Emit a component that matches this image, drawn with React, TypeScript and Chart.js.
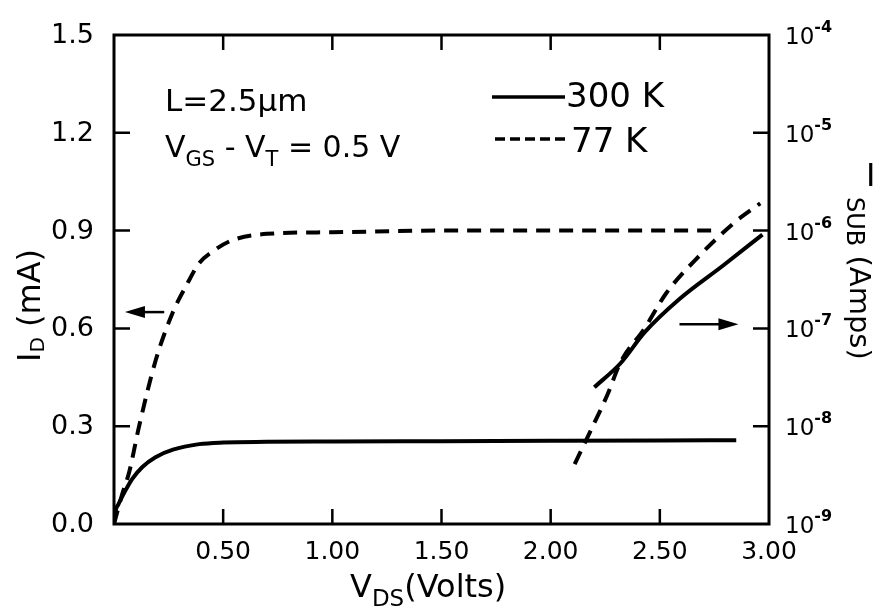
import React, { useEffect, useRef } from 'react';
import { Chart, registerables } from 'chart.js';
Chart.register(...registerables);

// I_D vs V_DS (left axis, mA)
const vds300 = [0, 0.007, 0.02, 0.05, 0.083, 0.13, 0.19, 0.27, 0.39, 0.5, 0.7, 1.0, 1.5, 2.0, 2.5, 2.85];
const id300 = [0, 0.04, 0.06, 0.1, 0.138, 0.175, 0.205, 0.228, 0.245, 0.25, 0.252, 0.253, 0.254, 0.255, 0.256, 0.257];
const vds77 = [0, 0.037, 0.07, 0.115, 0.19, 0.27, 0.33, 0.39, 0.46, 0.54, 0.7, 1.0, 1.5, 2.0, 2.5, 2.76];
const id77 = [0, 0.09, 0.16, 0.3, 0.5, 0.65, 0.73, 0.8, 0.84, 0.87, 0.89, 0.895, 0.9, 0.9, 0.9, 0.9];
// I_SUB vs V_DS (right axis, Amps)
const vsub300 = [2.2, 2.32, 2.43, 2.59, 2.79, 2.97];
const isub300 = [2.5e-8, 4.4e-8, 9.1e-8, 2.0e-7, 4.4e-7, 9.1e-7];
const vsub77 = [2.11, 2.18, 2.26, 2.32, 2.43, 2.53, 2.68, 2.84, 2.96];
const isub77 = [4.1e-9, 8.7e-9, 2.1e-8, 4.5e-8, 1.0e-7, 2.3e-7, 5.5e-7, 1.2e-6, 1.9e-6];

const xTicks = [0.5, 1.0, 1.5, 2.0, 2.5, 3.0];
const xTickLabels = ['0.50', '1.00', '1.50', '2.00', '2.50', '3.00'];
const yTicks = [0, 0.3, 0.6, 0.9, 1.2, 1.5];
const yTickLabels = ['0.0', '0.3', '0.6', '0.9', '1.2', '1.5'];
const y2Exps = [-9, -8, -7, -6, -5, -4];

const FONT = '"DejaVu Sans", "Liberation Sans", sans-serif';

type Part = { t: string; size: number; dy?: number; bold?: boolean };

function drawRich(ctx: CanvasRenderingContext2D, x: number, y: number, parts: Part[]) {
  let cx = x;
  for (const p of parts) {
    ctx.font = `${p.bold ? 'bold ' : ''}${p.size}px ${FONT}`;
    ctx.fillText(p.t, cx, y + (p.dy || 0));
    cx += ctx.measureText(p.t).width;
  }
}

function arrow(ctx: CanvasRenderingContext2D, x1: number, y1: number, x2: number, y2: number) {
  const dir = Math.sign(x2 - x1);
  ctx.beginPath();
  ctx.moveTo(x1, y1);
  ctx.lineTo(x2 - dir * 10, y2);
  ctx.stroke();
  ctx.beginPath();
  ctx.moveTo(x2, y2);
  ctx.lineTo(x2 - dir * 20, y2 - 6);
  ctx.lineTo(x2 - dir * 20, y2 + 6);
  ctx.closePath();
  ctx.fill();
}

const annot = {
  id: 'annot',
  afterDraw(chart: any) {
    const { ctx, chartArea: a, scales } = chart;
    const sx = scales.x, sy = scales.y, sy2 = scales.y2;
    ctx.save();
    ctx.strokeStyle = '#000';
    ctx.fillStyle = '#000';
    ctx.lineWidth = 3;
    ctx.strokeRect(a.left, a.top, a.right - a.left, a.bottom - a.top);

    ctx.lineWidth = 2.5;
    ctx.beginPath();
    xTicks.forEach((v) => {
      if (v >= 3) return;
      const px = sx.getPixelForValue(v);
      ctx.moveTo(px, a.bottom);
      ctx.lineTo(px, a.bottom - 15);
      ctx.moveTo(px, a.top);
      ctx.lineTo(px, a.top + 15);
    });
    yTicks.forEach((v) => {
      if (v <= 0 || v >= 1.5) return;
      const py = sy.getPixelForValue(v);
      ctx.moveTo(a.left, py);
      ctx.lineTo(a.left + 16, py);
    });
    y2Exps.forEach((e) => {
      if (e <= -9 || e >= -4) return;
      const py = sy2.getPixelForValue(Math.pow(10, e));
      ctx.moveTo(a.right, py);
      ctx.lineTo(a.right - 16, py);
    });
    ctx.stroke();

    // tick labels
    ctx.textBaseline = 'middle';
    ctx.textAlign = 'right';
    ctx.font = `27px ${FONT}`;
    yTicks.forEach((v, i) => {
      ctx.fillText(yTickLabels[i], 94, sy.getPixelForValue(v) + 1);
    });
    ctx.textAlign = 'center';
    ctx.font = `25px ${FONT}`;
    xTicks.forEach((v, i) => {
      ctx.fillText(xTickLabels[i], sx.getPixelForValue(v), a.bottom + 28);
    });
    ctx.textAlign = 'left';
    ctx.textBaseline = 'alphabetic';
    y2Exps.forEach((e) => {
      const py = sy2.getPixelForValue(Math.pow(10, e));
      drawRich(ctx, 785, py + 9, [
        { t: '10', size: 23 },
        { t: '-' + Math.abs(e), size: 16, dy: -12, bold: true },
      ]);
    });

    // annotations
    drawRich(ctx, 165, 111, [{ t: 'L=2.5μm', size: 31 }]);
    drawRich(ctx, 165, 157, [
      { t: 'V', size: 30 },
      { t: 'GS', size: 21, dy: 9 },
      { t: ' - V', size: 30 },
      { t: 'T', size: 21, dy: 9 },
      { t: ' = 0.5 V', size: 30 },
    ]);

    // legend
    ctx.lineWidth = 3.5;
    ctx.beginPath();
    ctx.moveTo(492, 97);
    ctx.lineTo(565, 97);
    ctx.stroke();
    ctx.setLineDash([10, 5]);
    ctx.beginPath();
    ctx.moveTo(495, 139);
    ctx.lineTo(568, 139);
    ctx.stroke();
    ctx.setLineDash([]);
    drawRich(ctx, 566, 107, [{ t: '300 K', size: 34 }]);
    drawRich(ctx, 571, 152, [{ t: '77 K', size: 34 }]);

    // arrows
    ctx.lineWidth = 2.5;
    const ay = sy.getPixelForValue(0.65);
    arrow(ctx, sx.getPixelForValue(0.23), ay, sx.getPixelForValue(0.05), ay);
    const ay2 = sy2.getPixelForValue(1.1e-7);
    arrow(ctx, sx.getPixelForValue(2.59), ay2, sx.getPixelForValue(2.86), ay2);

    // x-axis title
    drawRich(ctx, 350, 597, [
      { t: 'V', size: 32 },
      { t: 'DS', size: 23, dy: 9 },
      { t: '(Volts)', size: 32 },
    ]);

    // left title (rotated)
    ctx.save();
    ctx.translate(40, 362);
    ctx.rotate(-Math.PI / 2);
    drawRich(ctx, 0, 0, [
      { t: 'I', size: 32 },
      { t: 'D', size: 20, dy: 4 },
      { t: ' (mA)', size: 32 },
    ]);
    ctx.restore();

    // right title
    ctx.font = `32px ${FONT}`;
    ctx.fillText('I', 866, 186);
    ctx.save();
    ctx.translate(850, 197);
    ctx.rotate(Math.PI / 2);
    drawRich(ctx, 0, 0, [
      { t: 'SUB', size: 24, dy: 3 },
      { t: ' (Amps)', size: 29 },
    ]);
    ctx.restore();

    ctx.restore();
  },
};

function pts(xs: number[], ys: number[]) {
  return xs.map((x, i) => ({ x, y: ys[i] }));
}

export default function App() {
  const ref = useRef<HTMLCanvasElement | null>(null);
  useEffect(() => {
    if (!ref.current) return;
    const common = {
      borderColor: '#000',
      borderWidth: 4,
      pointRadius: 0,
      fill: false,
      cubicInterpolationMode: 'monotone' as const,
      borderCapStyle: 'butt' as const,
    };
    const chart = new Chart(ref.current, {
      type: 'line',
      data: {
        datasets: [
          { ...common, label: 'I_D 300 K', data: pts(vds300, id300), yAxisID: 'y' },
          { ...common, label: 'I_D 77 K', data: pts(vds77, id77), yAxisID: 'y', borderDash: [14, 9] },
          { ...common, label: 'I_SUB 300 K', data: pts(vsub300, isub300), yAxisID: 'y2' },
          { ...common, label: 'I_SUB 77 K', data: pts(vsub77, isub77), yAxisID: 'y2', borderDash: [14, 9] },
        ],
      },
      options: {
        animation: false,
        responsive: false,
        maintainAspectRatio: false,
        layout: { padding: { left: 114, right: 885 - 769, top: 35, bottom: 612 - 524 } },
        plugins: { legend: { display: false }, tooltip: { enabled: false } },
        scales: {
          x: { type: 'linear', min: 0, max: 3, display: false },
          y: { type: 'linear', min: 0, max: 1.5, display: false },
          y2: { type: 'logarithmic', min: 1e-9, max: 1e-4, display: false },
        },
      },
      plugins: [annot],
    });
    return () => chart.destroy();
  }, []);
  return (
    <div style={{ position: 'absolute', left: 0, top: 0, width: 885, height: 612, background: '#fff' }}>
      <canvas ref={ref} width={885} height={612} style={{ display: 'block' }} />
    </div>
  );
}
